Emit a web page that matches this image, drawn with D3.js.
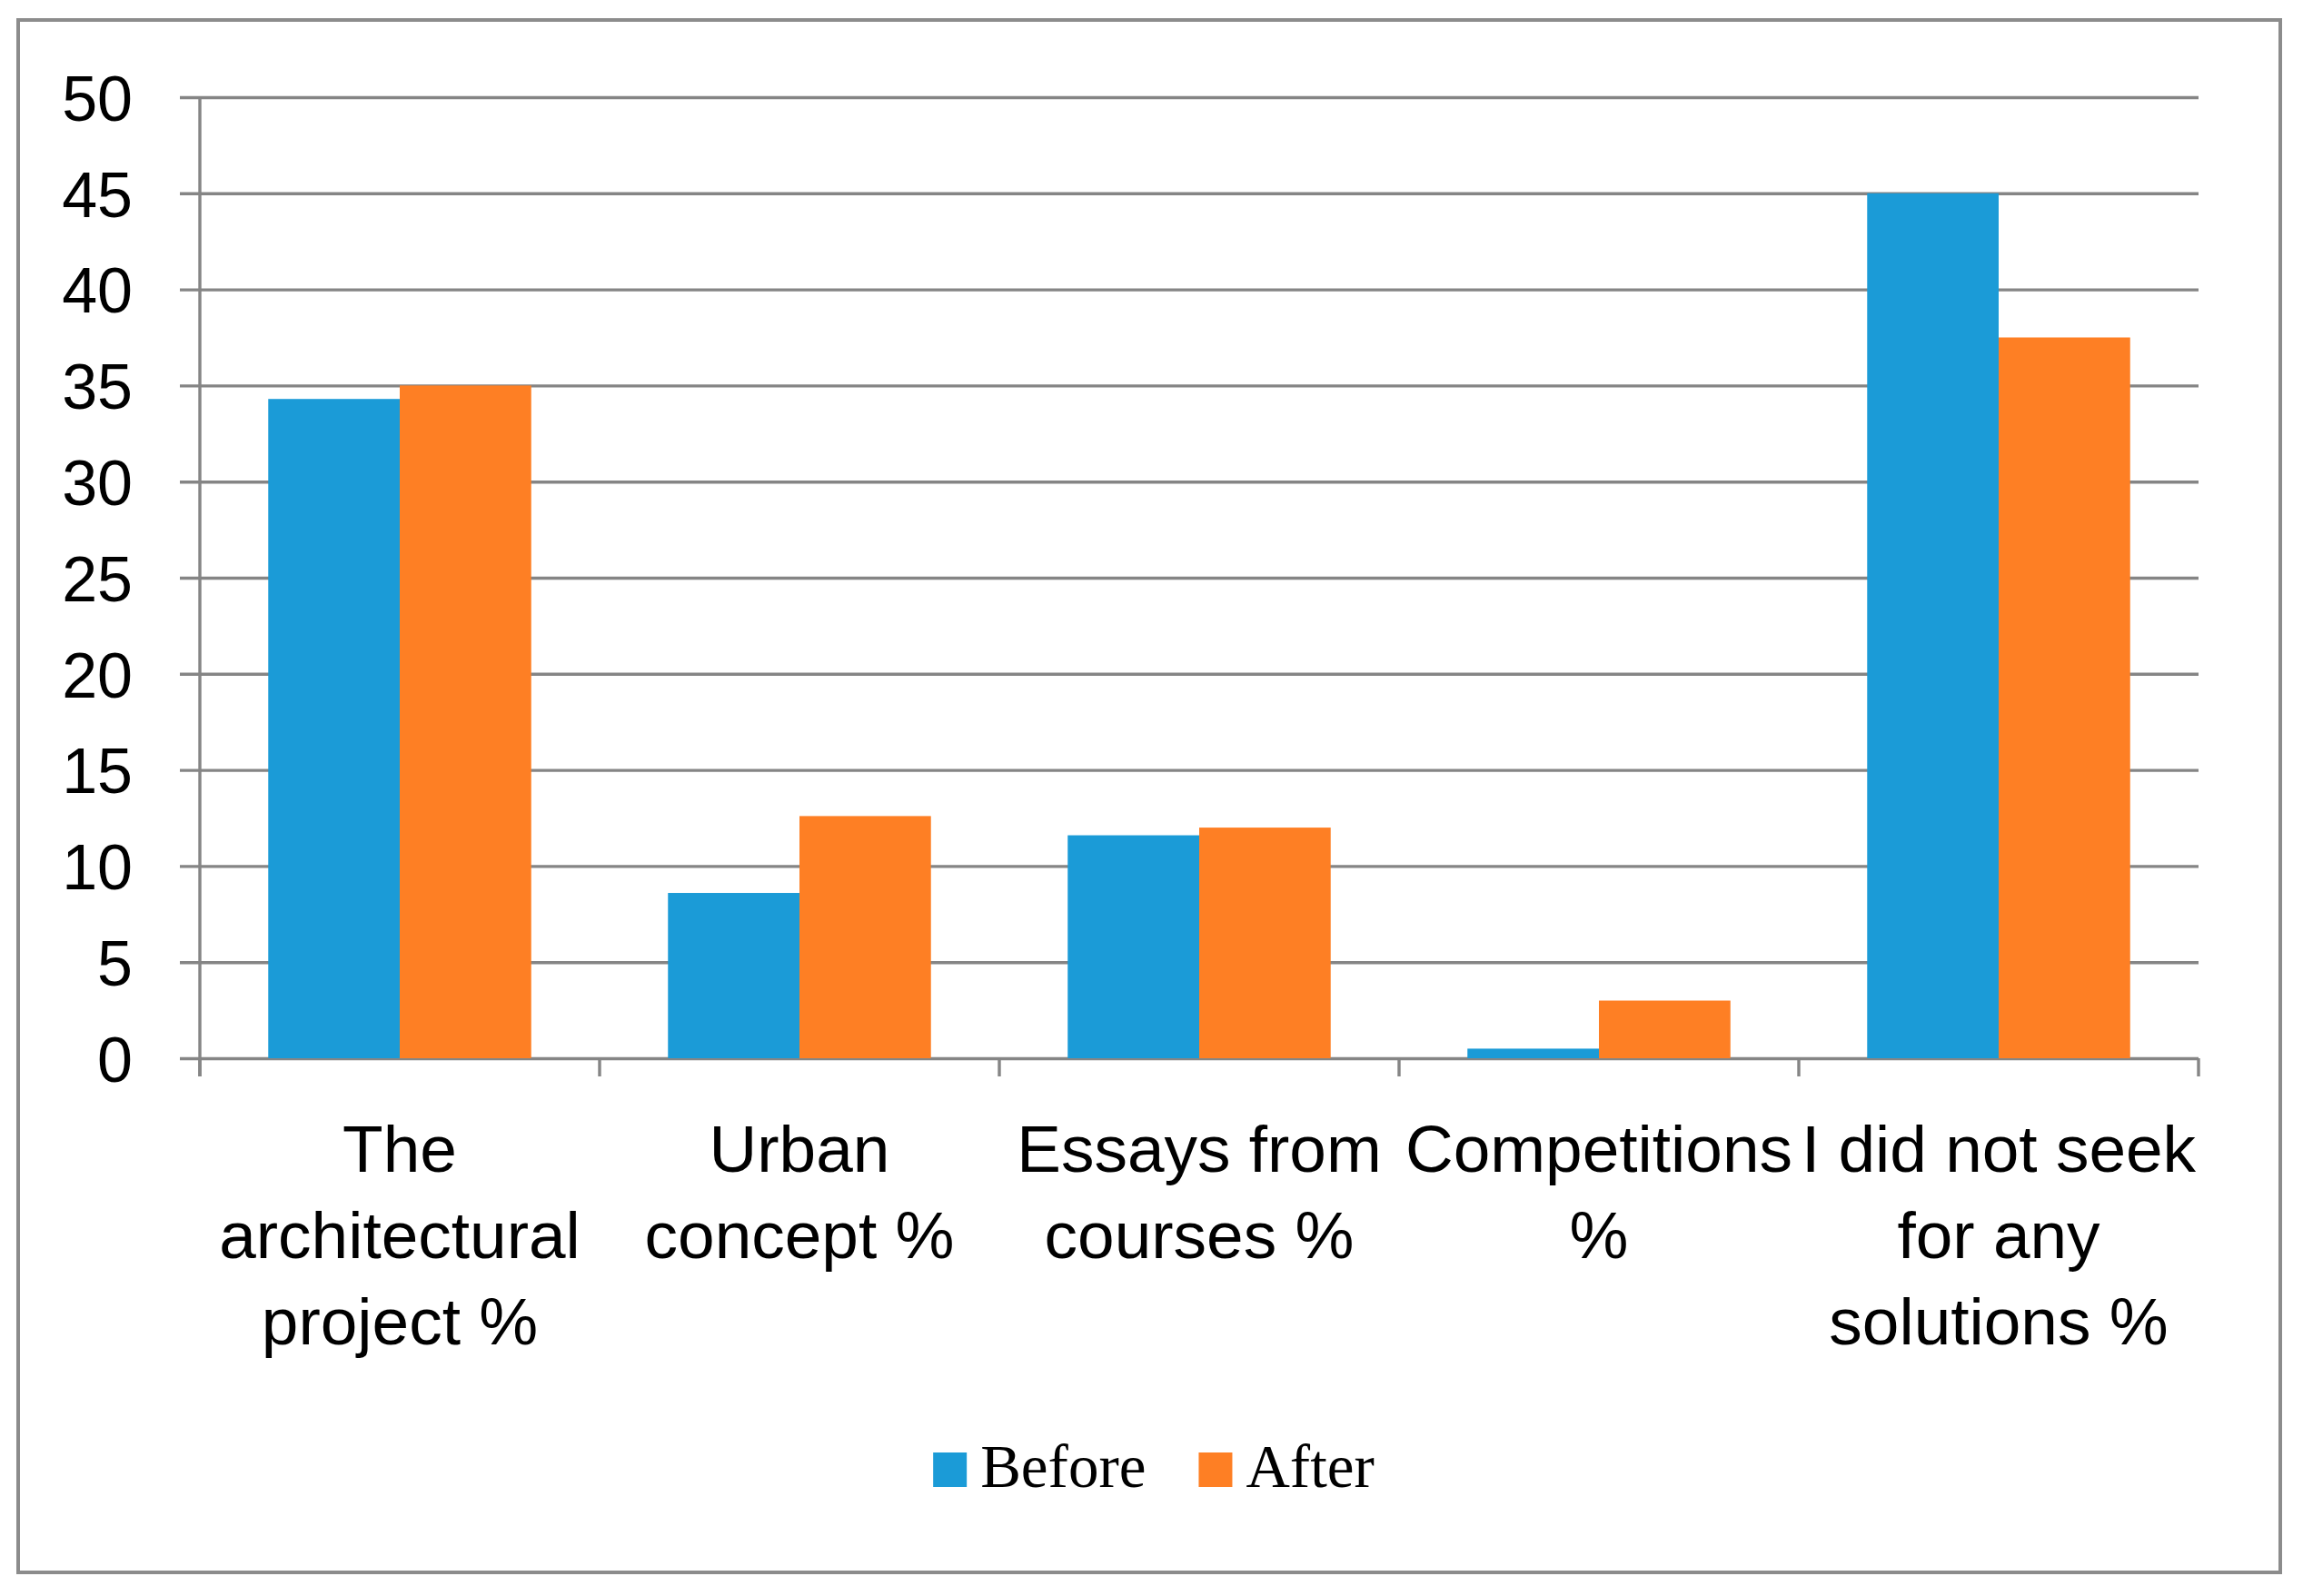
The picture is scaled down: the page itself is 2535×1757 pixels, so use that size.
<!DOCTYPE html>
<html>
<head>
<meta charset="utf-8">
<script src="https://cdn.jsdelivr.net/npm/d3@7"></script>
<style>
  body { margin: 0; background: #fff; }
  svg { display: block; }
</style>
</head>
<body>
<svg width="2535" height="1757"></svg>
<script>
// data
const categories = [
  "The architectural project %",
  "Urban concept %",
  "Essays from courses %",
  "Competitions %",
  "I did not seek for any solutions %"
]
const categoryLines = [
  ["The", "architectural", "project %"],
  ["Urban", "concept %"],
  ["Essays from", "courses %"],
  ["Competitions", "%"],
  ["I did not seek", "for any", "solutions %"]
]
const series = ["Before", "After"]
const before = [34.3, 8.6, 11.6, 0.5, 45.0]
const after = [35.0, 12.6, 12.0, 3.0, 37.5]
const yTicks = [0, 5, 10, 15, 20, 25, 30, 35, 40, 45, 50]

const values = { Before: before, After: after }
const color = d3.scaleOrdinal().domain(series).range(["#1b9bd7", "#fe7f24"])

const svg = d3.select("svg")
const width = +svg.attr("width")
const height = +svg.attr("height")

const plotLeft = 220
const plotRight = 2420
const plotTop = 107
const plotBottom = 1165
const gridColor = "#858585"

svg.append("rect")
  .attr("width", width)
  .attr("height", height)
  .attr("fill", "#fff")

// outer frame
svg.append("rect")
  .attr("x", 20)
  .attr("y", 22)
  .attr("width", 2490)
  .attr("height", 1709)
  .attr("fill", "none")
  .attr("stroke", "#8c8c8c")
  .attr("stroke-width", 4)

const x0 = d3.scaleBand().domain(categories).range([plotLeft, plotRight]).padding(0)
const x1 = d3.scaleBand().domain(series).range([0, x0.bandwidth()])
  .paddingInner(0).paddingOuter(0.52)
const y = d3.scaleLinear().domain([0, 50]).range([plotBottom, plotTop])

// y axis with gridlines
const yAxis = svg.append("g")
  .attr("transform", "translate(198,0)")
  .call(d3.axisLeft(y).tickValues(yTicks).tickSize(-(plotRight - 198)).tickPadding(52))

yAxis.select(".domain").remove()
yAxis.selectAll(".tick line")
  .attr("stroke", gridColor)
  .attr("stroke-width", 3.4)
yAxis.selectAll(".tick text")
  .attr("fill", "#000")
  .attr("font-family", "'Liberation Sans', Arial, sans-serif")
  .attr("font-size", 70)
  .attr("dy", "0.36em")

// bars
const group = svg.append("g")
  .selectAll("g")
  .data(categories)
  .join("g")
  .attr("transform", (d) => "translate(" + x0(d) + ",0)")

group.selectAll("rect")
  .data((d, i) => series.map((s) => ({ key: s, value: values[s][i] })))
  .join("rect")
  .attr("x", (d) => x1(d.key))
  .attr("y", (d) => y(d.value))
  .attr("width", x1.bandwidth())
  .attr("height", (d) => y(0) - y(d.value))
  .attr("fill", (d) => color(d.key))

// vertical axis line and category ticks
svg.append("line")
  .attr("x1", plotLeft).attr("x2", plotLeft)
  .attr("y1", y(50)).attr("y2", y(0) + 20)
  .attr("stroke", gridColor)
  .attr("stroke-width", 3.4)

const bounds = categories.map((c) => x0(c)).concat([plotRight])
svg.append("g")
  .selectAll("line")
  .data(bounds)
  .join("line")
  .attr("x1", (d) => d).attr("x2", (d) => d)
  .attr("y1", y(0)).attr("y2", y(0) + 20)
  .attr("stroke", gridColor)
  .attr("stroke-width", 3.4)

// category labels
svg.append("g")
  .selectAll("text")
  .data(categories)
  .join("text")
  .attr("x", (d) => x0(d) + x0.bandwidth() / 2)
  .attr("y", 1290)
  .attr("text-anchor", "middle")
  .attr("font-family", "'Liberation Sans', Arial, sans-serif")
  .attr("font-size", 73)
  .attr("fill", "#000")
  .selectAll("tspan")
  .data((d, i) => categoryLines[i])
  .join("tspan")
  .attr("x", function () { return this.parentNode.getAttribute("x") })
  .attr("dy", (d, i) => (i === 0 ? 0 : 95))
  .text((d) => d)

// legend
const legend = svg.append("g")
let lx = 0
series.forEach((s) => {
  const item = legend.append("g").attr("transform", "translate(" + lx + ",0)")
  item.append("rect")
    .attr("x", 0)
    .attr("y", -38)
    .attr("width", 37)
    .attr("height", 38)
    .attr("fill", color(s))
  const t = item.append("text")
    .attr("x", 52)
    .attr("y", 0)
    .attr("font-family", "'Liberation Serif', 'Times New Roman', serif")
    .attr("font-size", 67)
    .attr("fill", "#000")
    .text(s)
  lx += 52 + t.node().getComputedTextLength() + 58
})
const legendWidth = legend.node().getBBox().width
legend.attr("transform", "translate(" + (1270 - legendWidth / 2) + ",1637)")
</script>
</body>
</html>
